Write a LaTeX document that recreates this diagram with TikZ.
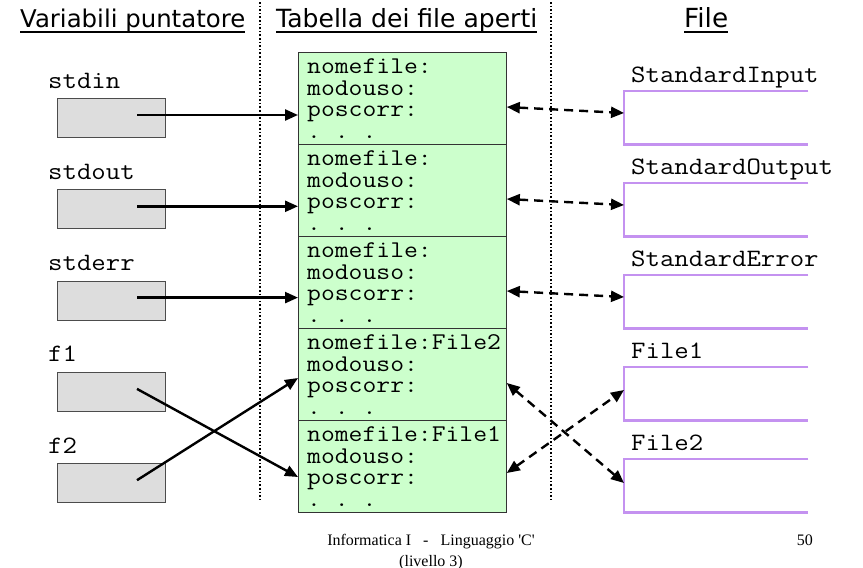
\documentclass[tikz,border=0pt]{standalone}
\usepackage{fontspec}
\setmainfont{Liberation Serif}
\setmonofont{Latin Modern Mono}[FakeStretch=1.12]
\newfontfamily\titlefont{DejaVu Sans}
\usetikzlibrary{arrows.meta}

\definecolor{cellgreen}{RGB}{204,255,204}
\definecolor{boxgrey}{RGB}{221,221,221}
\definecolor{filepurple}{RGB}{196,146,240}

\begin{document}
\begin{tikzpicture}[x=1pt,y=-1pt,
  varbox/.style={draw=black!70, fill=boxgrey, minimum width=108pt, minimum height=39pt, inner sep=0pt, anchor=north west, line width=0.8pt},
  cell/.style={draw=black!80, fill=cellgreen, minimum width=208pt, minimum height=92pt, inner sep=0pt, anchor=north west, line width=0.8pt},
  fbox/.style={minimum width=184pt, minimum height=53pt, inner sep=0pt, anchor=north west},
  fside/.style={draw=filepurple, line width=2.5pt},
  ctext/.style={anchor=base west, inner sep=0pt, font=\fontsize{24}{24}\selectfont\ttfamily},
  lbl/.style={anchor=base west, inner sep=0pt, font=\fontsize{25}{26}\selectfont\ttfamily},
  ptr/.style={line width=2.4pt, -{Triangle[length=13pt,width=11pt]}},
  link/.style={line width=2.4pt, dash pattern=on 9pt off 6pt, {Triangle[length=13pt,width=11pt]}-{Triangle[length=13pt,width=11pt]}},
  sep/.style={line width=1.6pt, dotted},
  title/.style={anchor=base west, inner sep=0pt, font=\titlefont},
  uline/.style={line width=2.2pt},
  foot/.style={inner sep=0pt, font=\fontsize{16}{18}\selectfont}
]
\useasboundingbox (0,0) rectangle (863,568);

% separators
\coordinate (s1t) at (260,2);
\coordinate (s1b) at (260,500);
\coordinate (s2t) at (551,2);
\coordinate (s2b) at (551,500);
\draw[sep] (s1t) -- (s1b);
\draw[sep] (s2t) -- (s2b);

% titles
\node[title] (t1) at (20,27) {\resizebox{225pt}{!}{Variabili puntatore}};
\node[title] (t2) at (276,27) {\resizebox{261pt}{!}{Tabella dei file aperti}};
\node[title] (t3) at (684,27) {\resizebox{44pt}{!}{File}};
\coordinate (u1a) at (20,32); \coordinate (u1b) at (245,32);
\coordinate (u2a) at (276,32); \coordinate (u2b) at (537,32);
\coordinate (u3a) at (684,32); \coordinate (u3b) at (728,32);
\draw[uline] (u1a) -- (u1b);
\draw[uline] (u2a) -- (u2b);
\draw[uline] (u3a) -- (u3b);

% table cells
\foreach \i/\t/\nm in {1/52/, 2/144/, 3/236/, 4/328/File2, 5/420/File1}{
  \node[cell] (c\i) at (298,\t) {};
  \node[ctext] (c\i n) at ([xshift=9pt,yshift=-21pt]c\i.north west) {nomefile:\nm};
  \node[ctext] (c\i m) at ([xshift=9pt,yshift=-43pt]c\i.north west) {modouso:};
  \node[ctext] (c\i p) at ([xshift=9pt,yshift=-64pt]c\i.north west) {poscorr:};
  \node[ctext] (c\i d) at ([xshift=9pt,yshift=-86pt]c\i.north west) {.~.~.};
}

% pointer variables
\foreach \i/\t/\name in {1/98/stdin, 2/189.3/stdout, 3/280.6/stderr, 4/371.9/f1, 5/463.2/f2}{
  \node[varbox] (v\i) at (57,\t) {};
  \node[lbl] (vl\i) at ([xshift=-9pt,yshift=10pt]v\i.north west) {\name};
  \coordinate (p\i) at ([xshift=80pt,yshift=-17pt]v\i.north west);
}

% files
\foreach \i/\t/\name in {1/91/StandardInput, 2/183/StandardOutput, 3/275/StandardError, 4/367/File1, 5/459/File2}{
  \node[fbox] (f\i) at (624,\t) {};
  \draw[fside] (f\i.north east) -- (f\i.north west) -- (f\i.south west) -- (f\i.south east);
  \node[lbl] (fl\i) at ([xshift=7pt,yshift=9pt]f\i.north west) {\name};
}

% pointer arrows
\draw[ptr] (p1) -- (c1.west |- p1);
\draw[ptr] (p2) -- (c2.west |- p2);
\draw[ptr] (p3) -- (c3.west |- p3);
\draw[ptr] (p4) -- ([yshift=-57pt]c5.north west);
\draw[ptr] (p5) -- ([yshift=-50pt]c4.north west);

% links table <-> files
\draw[link] ([yshift=-55pt]c1.north east) -- ([yshift=-22pt]f1.north west);
\draw[link] ([yshift=-55pt]c2.north east) -- ([yshift=-22pt]f2.north west);
\draw[link] ([yshift=-55pt]c3.north east) -- ([yshift=-22pt]f3.north west);
\draw[link] ([yshift=-55pt]c4.north east) -- ([yshift=-24pt]f5.north west);
\draw[link] ([yshift=-53pt]c5.north east) -- ([yshift=-23pt]f4.north west);

% footer
\node[foot, anchor=base] (ft1) at (431,545) {Informatica I\ \ \ -\ \ \ Linguaggio \textquotesingle C\textquotesingle};
\node[foot, anchor=base] (ft2) at (431,566) {(livello 3)};
\node[foot, anchor=base east] (ft3) at (813,545) {50};
\end{tikzpicture}
\end{document}
